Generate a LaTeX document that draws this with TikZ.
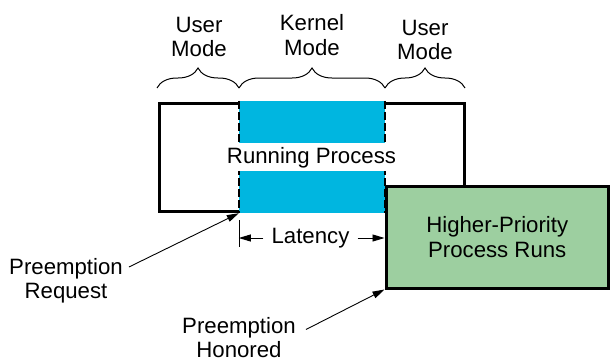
\documentclass[tikz,border=0pt]{standalone}
\usepackage{fontspec}
\setmainfont{Liberation Sans}
\usetikzlibrary{decorations.pathreplacing,arrows.meta}
\definecolor{cyanfill}{RGB}{0,182,224}
\definecolor{greenfill}{RGB}{157,207,160}
\begin{document}
\begin{tikzpicture}[x=1pt,y=-1pt,
  lbl/.style={font=\fontsize{22.2}{24.5}\selectfont, align=center, inner sep=0pt},
  thickbox/.style={draw, line width=3pt, rectangle, inner sep=0pt},
  dashline/.style={line width=2.2pt, dash pattern=on 8pt off 3pt},
  ptr/.style={line width=0.9pt, -{Triangle[length=12pt,width=7pt]}},
  brc/.style={decorate, decoration={brace, amplitude=20pt}, line width=1pt}]
\useasboundingbox (0,0) rectangle (610,362);
% main process box
\node[thickbox, fill=white, minimum width=305pt, minimum height=108.5pt] (proc) at (311.5,157.25) {};
% kernel part
\node[fill=cyanfill, inner sep=0pt, minimum width=146pt, minimum height=112pt] (kernel) at (312,157) {};
\draw[dashline] (kernel.north west) -- (kernel.south west);
\draw[dashline] (kernel.north east) -- (kernel.south east);
\node[fill=white, inner sep=0pt, minimum width=148pt, minimum height=28pt] (band) at (312,157) {};
\node[lbl, anchor=base] (run) at (311.5,163) {Running Process};
% higher priority box
\node[thickbox, fill=greenfill, minimum width=222.5pt, minimum height=102pt, lbl] (hp) at (497.25,237) {Higher-Priority\\Process Runs};
% braces
\draw[brc] (157,88) -- (239,88);
\draw[brc] (239,88) -- (385,88);
\draw[brc] (385,88) -- (465,88);
\node[lbl] (um1) at (199,37) {User\\Mode};
\node[lbl] (km) at (312,35) {Kernel\\Mode};
\node[lbl] (um2) at (425,40) {User\\Mode};
% latency
\draw[line width=1pt] (239,220) -- (239,247);
\node[lbl, inner xsep=8pt] (lat) at (310.5,238) {Latency};
\draw[ptr] (lat.west) -- (lat.west -| kernel.south west);
\draw[ptr] (lat.east) -- (lat.east -| hp.west);
% preemption labels
\node[lbl] (pr) at (66,281) {Preemption\\Request};
\node[lbl] (ph) at (239,337.5) {Preemption\\Honored};
\draw[ptr] ([shift={(6,-14)}]pr.east) -- (kernel.south west);
\draw[ptr] ([shift={(10,-8)}]ph.east) -- (hp.south west);
\end{tikzpicture}
\end{document}
